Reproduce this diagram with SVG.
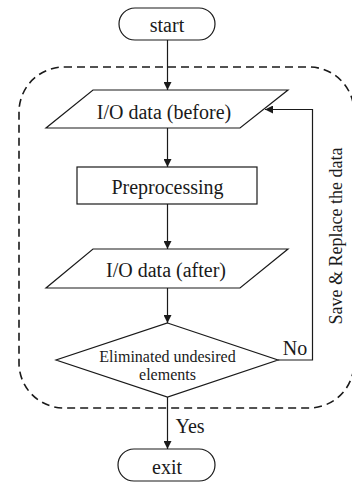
<svg xmlns="http://www.w3.org/2000/svg" width="352" height="482" viewBox="0 0 352 482">
<style>
.shape{fill:#fff;stroke:#1a1a1a;stroke-width:1.2}
.line{fill:none;stroke:#1a1a1a;stroke-width:1.2}
.dash{fill:none;stroke:#1a1a1a;stroke-width:1.6;stroke-dasharray:8 5}
text{fill:#1a1a1a;text-anchor:middle}
.t20{font-size:20px}
.t17{font-size:16px}
.t18{font-size:18px}
</style>
<defs>
<marker id="arr" viewBox="0 0 10 10" refX="10" refY="5" markerWidth="10" markerHeight="8" markerUnits="userSpaceOnUse" orient="auto">
<path d="M0,0 L10,5 L0,10 Z" fill="#1a1a1a"/>
</marker>
</defs>
<g font-family="'Liberation Serif', 'Times New Roman', 'DejaVu Serif', serif">
<rect id="loop-region" class="dash" x="19" y="67" width="335" height="341" rx="45" ry="45"/>
<g id="connectors">
<line class="line" x1="167.5" y1="40" x2="167.5" y2="90" marker-end="url(#arr)"/>
<line class="line" x1="167.5" y1="128" x2="167.5" y2="167" marker-end="url(#arr)"/>
<line class="line" x1="167.5" y1="204" x2="167.5" y2="249" marker-end="url(#arr)"/>
<line class="line" x1="167.5" y1="288" x2="167.5" y2="323" marker-end="url(#arr)"/>
<line class="line" x1="167.5" y1="397" x2="167.5" y2="449" marker-end="url(#arr)"/>
<polyline class="line" points="278,360 312.5,360 312.5,109.5 265,109.5" marker-end="url(#arr)"/>
<text class="t20" x="295" y="355">No</text>
<text class="t20" x="190" y="433">Yes</text>
<text class="t18" transform="translate(342,236) rotate(-90)">Save &amp; Replace the data</text>
</g>
<g id="start">
<rect class="shape" x="119" y="8" width="96" height="32" rx="16" ry="16"/>
<text class="t20" x="167" y="32">start</text>
</g>
<g id="io-before">
<polygon class="shape" points="93,90 288,90 240,128 46,128"/>
<text class="t20" x="164" y="119">I/O data (before)</text>
</g>
<g id="preprocessing">
<rect class="shape" x="77" y="167" width="180" height="37"/>
<text class="t20" x="167.5" y="194">Preprocessing</text>
</g>
<g id="io-after">
<polygon class="shape" points="93,249 288,249 240,288 46,288"/>
<text class="t20" x="166" y="277">I/O data (after)</text>
</g>
<g id="decision">
<polygon class="shape" points="167.5,323 278,360 167.5,397 56,360"/>
<text class="t17" x="167.5" y="362">Eliminated undesired</text>
<text class="t17" x="167.5" y="380">elements</text>
</g>
<g id="exit">
<rect class="shape" x="118" y="449" width="97" height="32" rx="16" ry="16"/>
<text class="t20" x="167" y="474">exit</text>
</g>
</g>
</svg>
